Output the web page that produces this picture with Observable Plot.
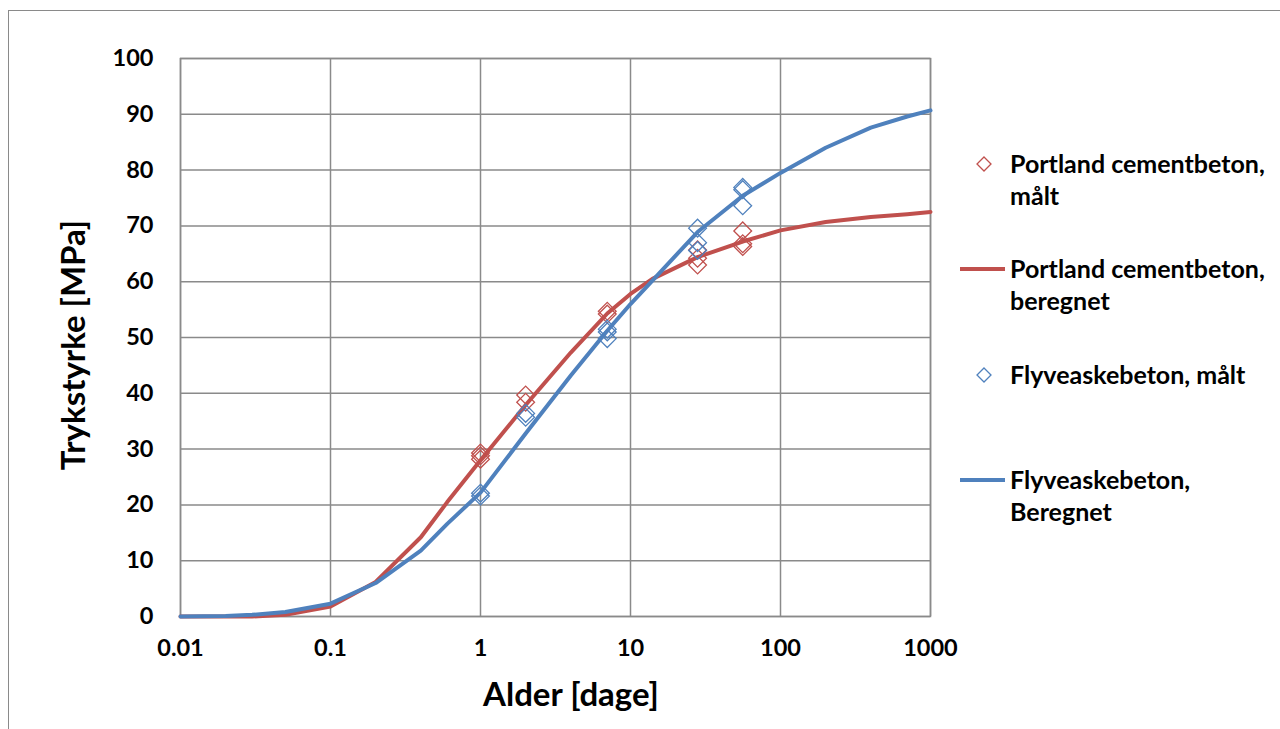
<!DOCTYPE html>
<html><head><meta charset="utf-8">
<script src="https://cdn.jsdelivr.net/npm/d3@7"></script>
<script src="https://cdn.jsdelivr.net/npm/@observablehq/plot@0.6"></script>
<style>
body{margin:0;background:#fff;font-family:Lato,"Open Sans",sans-serif;}
#wrap{position:relative;width:1280px;height:729px;overflow:hidden;}
#border{position:absolute;left:8px;top:10px;width:1300px;height:760px;border:1.5px solid #8a8a8a;box-sizing:border-box;}
.t{position:absolute;font-weight:bold;color:#000;white-space:nowrap;}
</style></head>
<body><div id="wrap"><div id="border"></div></div>
<script>
// measured data
const pcMeasAge = [1,1,1,2,2,7,7,28,28,28,56,56,56];
const pcMeasVal = [28.2,28.8,29.3,38.4,39.7,54.2,54.7,63.0,64.2,65.7,66.3,66.8,69.1];
const faMeasAge = [1,1,2,2,7,7,7,28,28,28,56,56,56];
const faMeasVal = [21.6,22.1,35.7,36.4,49.8,51.0,51.5,65.6,67.0,69.6,73.6,76.5,76.9];
// calculated curves
const calcAge = [0.01,0.02,0.03,0.05,0.1,0.2,0.4,0.6,1,2,4,7,10,14,28,56,100,200,400,700,1000];
const pcCalc = [0,0,0,0.3,1.8,6.2,14.2,20.5,28,37.9,47.3,54.3,57.8,60.5,64.4,67.2,69.2,70.7,71.6,72.1,72.5];
const faCalc = [0,0.1,0.3,0.8,2.3,6,11.8,16.6,22.2,32.8,43.2,51.2,56,60.2,68.9,75.4,79.5,84,87.6,89.6,90.7];
const xTicks = [0.01,0.1,1,10,100,1000];
const xTickLabels = ["0.01","0.1","1","10","100","1000"];
const yTicks = [0,10,20,30,40,50,60,70,80,90,100];
const seriesNames = ["Portland cementbeton,\nmålt","Portland cementbeton,\nberegnet","Flyveaskebeton, målt","Flyveaskebeton,\nBeregnet"];
const red = "#C0504D", blue = "#4F81BD";

const pcM = pcMeasAge.map((a,i)=>({a, v:pcMeasVal[i]}));
const faM = faMeasAge.map((a,i)=>({a, v:faMeasVal[i]}));
const pcC = calcAge.map((a,i)=>({a, v:pcCalc[i]}));
const faC = calcAge.map((a,i)=>({a, v:faCalc[i]}));

const chart = Plot.plot({
  width:1280, height:729,
  marginLeft:180, marginRight:350, marginTop:58, marginBottom:113,
  style:{background:"transparent", fontFamily:"Lato, sans-serif"},
  x:{type:"log", domain:[0.01,1000]},
  y:{domain:[0,100]},
  marks:[
    Plot.gridX(xTicks,{stroke:"#8a8a8a", strokeOpacity:1, strokeWidth:1.5}),
    Plot.gridY(yTicks,{stroke:"#8a8a8a", strokeOpacity:1, strokeWidth:1.5}),
    Plot.frame({stroke:"#8a8a8a", strokeWidth:1.5}),
    Plot.axisX({ticks:xTicks, tickFormat:(d)=>xTickLabels[xTicks.indexOf(d)], tickSize:0, tickPadding:23, fontSize:23.5, fontWeight:"bold", label:null}),
    Plot.axisY({ticks:yTicks, tickSize:0, tickPadding:27, fontSize:23.5, fontWeight:"bold", label:null}),
    Plot.line(pcC,{x:"a", y:"v", stroke:red, strokeWidth:4}),
    Plot.line(faC,{x:"a", y:"v", stroke:blue, strokeWidth:4}),
    Plot.dot(pcM,{x:"a", y:"v", symbol:"diamond2", r:8, stroke:red, strokeWidth:1.3, fill:"none"}),
    Plot.dot(faM,{x:"a", y:"v", symbol:"diamond2", r:8, stroke:blue, strokeWidth:1.3, fill:"none"})
  ]
});
const wrap = document.getElementById("wrap");
chart.style.position="absolute"; chart.style.left="0"; chart.style.top="0";
wrap.appendChild(chart);

function addText(txt, css){ const d=document.createElement("div"); d.className="t"; d.textContent=txt; Object.assign(d.style,css); wrap.appendChild(d); return d; }
addText("Alder [dage]",{left:"571px", top:"673px", fontSize:"33px", transform:"translateX(-50%)"});
addText("Trykstyrke [MPa]",{left:"72px", top:"345px", fontSize:"33px", transform:"translate(-50%,-50%) rotate(-90deg)"});

// legend
const leg = document.createElementNS("http://www.w3.org/2000/svg","svg");
leg.setAttribute("width","1280"); leg.setAttribute("height","729");
leg.style.position="absolute"; leg.style.left="0"; leg.style.top="0";
wrap.appendChild(leg);
const legY = [164,269,375,480];
const types = ["dot","line","dot","line"];
const cols = [red,red,blue,blue];
legY.forEach((y,i)=>{
  if(types[i]==="dot"){
    const p=document.createElementNS(leg.namespaceURI,"path");
    p.setAttribute("d",`M${984},${y-7}L${991},${y}L${984},${y+7}L${977},${y}Z`);
    p.setAttribute("fill","none"); p.setAttribute("stroke",cols[i]); p.setAttribute("stroke-width","1.3");
    leg.appendChild(p);
  } else {
    const l=document.createElementNS(leg.namespaceURI,"line");
    l.setAttribute("x1",960);l.setAttribute("x2",1005);l.setAttribute("y1",y);l.setAttribute("y2",y);
    l.setAttribute("stroke",cols[i]); l.setAttribute("stroke-width","4");
    leg.appendChild(l);
  }
  const lines = seriesNames[i].split("\n");
  lines.forEach((s,j)=>{
    const t=document.createElementNS(leg.namespaceURI,"text");
    t.setAttribute("x",1010); t.setAttribute("y",y+j*32); t.setAttribute("dy","0.35em");
    t.setAttribute("font-family","Lato, sans-serif"); t.setAttribute("font-weight","bold"); t.setAttribute("font-size","25");
    t.textContent=s; leg.appendChild(t);
  });
});
</script></body></html>
